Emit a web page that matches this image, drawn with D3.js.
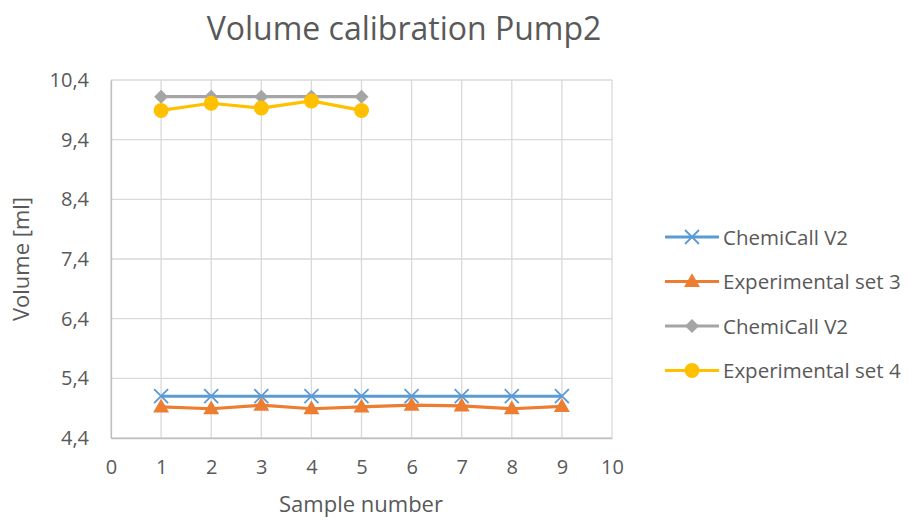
<!DOCTYPE html>
<html>
<head>
  <meta charset="utf-8">
  <title>Volume calibration Pump2</title>
  <style>
    body { margin: 0; background: #fff; }
    text { font-family: "Open Sans", "Liberation Sans", sans-serif; fill: #595959; }
  </style>
  <script src="https://d3js.org/d3.v7.min.js"></script>
</head>
<body>
  <div id="container"></div>
  <script>
    // data
    const sampleSet1 = [1, 2, 3, 4, 5, 6, 7, 8, 9];
    const chemicallA = [5.1, 5.1, 5.1, 5.1, 5.1, 5.1, 5.1, 5.1, 5.1];
    const experimental3 = [4.92, 4.89, 4.95, 4.89, 4.92, 4.95, 4.94, 4.89, 4.93];
    const sampleSet2 = [1, 2, 3, 4, 5];
    const chemicallB = [10.12, 10.12, 10.12, 10.12, 10.12];
    const experimental4 = [9.89, 10.01, 9.93, 10.05, 9.89];
    const xTicks = [0, 1, 2, 3, 4, 5, 6, 7, 8, 9, 10];
    const yTicks = [4.4, 5.4, 6.4, 7.4, 8.4, 9.4, 10.4];

    const width = 908, height = 520;
    const margin = { top: 80, left: 111, right: 296, bottom: 82 };

    const svg = d3.select("#container")
      .append("svg")
      .attr("width", width)
      .attr("height", height);

    const x = d3.scaleLinear().domain([0, 10]).range([margin.left, width - margin.right]);
    const y = d3.scaleLinear().domain([4.4, 10.4]).range([height - margin.bottom, margin.top]);

    // gridlines
    svg.append("g").selectAll("line.h")
      .data(yTicks)
      .enter().append("line")
      .attr("x1", x(0)).attr("x2", x(10))
      .attr("y1", d => y(d)).attr("y2", d => y(d))
      .attr("stroke", "#d9d9d9").attr("stroke-width", 1.3);
    svg.append("g").selectAll("line.v")
      .data(xTicks)
      .enter().append("line")
      .attr("x1", d => x(d)).attr("x2", d => x(d))
      .attr("y1", y(4.4)).attr("y2", y(10.4))
      .attr("stroke", "#d9d9d9").attr("stroke-width", 1.3);

    // axes
    const fmt = d => d.toFixed(1).replace(".", ",");
    const yAxis = svg.append("g")
      .attr("transform", "translate(" + x(0) + ",0)")
      .call(d3.axisLeft(y).tickValues(yTicks).tickFormat(fmt).tickSize(0).tickPadding(22));
    yAxis.select(".domain").attr("stroke", "#bfbfbf").attr("stroke-width", 1.3);
    yAxis.selectAll("text").attr("font-size", 20).attr("fill", "#595959")
      .style("font-family", "'Open Sans', sans-serif");

    const xAxis = svg.append("g")
      .attr("transform", "translate(0," + y(4.4) + ")")
      .call(d3.axisBottom(x).tickValues(xTicks).tickFormat(d3.format("d")).tickSize(0).tickPadding(22));
    xAxis.select(".domain").attr("stroke", "#bfbfbf").attr("stroke-width", 1.3);
    xAxis.selectAll("text").attr("font-size", 20).attr("fill", "#595959")
      .style("font-family", "'Open Sans', sans-serif");

    // titles
    svg.append("text")
      .attr("x", 404).attr("y", 40)
      .attr("text-anchor", "middle")
      .attr("font-size", 32)
      .text("Volume calibration Pump2");

    svg.append("text")
      .attr("x", 361).attr("y", 512)
      .attr("text-anchor", "middle")
      .attr("font-size", 22)
      .text("Sample number");

    svg.append("text")
      .attr("transform", "translate(29,259) rotate(-90)")
      .attr("text-anchor", "middle")
      .attr("font-size", 22)
      .text("Volume [ml]");

    // series
    const series = [
      { name: "ChemiCall V2", xs: sampleSet1, ys: chemicallA, color: "#5B9BD5", marker: "x" },
      { name: "Experimental set 3", xs: sampleSet1, ys: experimental3, color: "#ED7D31", marker: "triangle" },
      { name: "ChemiCall V2", xs: sampleSet2, ys: chemicallB, color: "#A5A5A5", marker: "diamond" },
      { name: "Experimental set 4", xs: sampleSet2, ys: experimental4, color: "#FFC000", marker: "circle" }
    ];

    function drawMarker(g, type, color) {
      if (type === "x") {
        g.append("path").attr("d", "M-7,-7L7,7M-7,7L7,-7")
          .attr("stroke", color).attr("stroke-width", 1.8).attr("fill", "none");
      } else if (type === "triangle") {
        g.append("path").attr("d", d3.symbol(d3.symbolTriangle, 110)())
          .attr("fill", color).attr("transform", "translate(0,1)");
      } else if (type === "diamond") {
        g.append("path").attr("d", "M0,-7L7,0L0,7L-7,0Z").attr("fill", color);
      } else {
        g.append("circle").attr("r", 7.5).attr("fill", color);
      }
    }

    const line = d3.line().x(d => x(d[0])).y(d => y(d[1]));

    series.forEach(function(s) {
      const pts = s.xs.map((v, i) => [v, s.ys[i]]);
      svg.append("path")
        .datum(pts)
        .attr("d", line)
        .attr("fill", "none")
        .attr("stroke", s.color)
        .attr("stroke-width", 3.2)
        .attr("stroke-linejoin", "round");
      svg.append("g").selectAll("g")
        .data(pts)
        .enter().append("g")
        .attr("transform", d => "translate(" + x(d[0]) + "," + y(d[1]) + ")")
        .each(function() { drawMarker(d3.select(this), s.marker, s.color); });
    });

    // legend
    const legend = svg.append("g");
    series.forEach(function(s, i) {
      const ly = 237 + i * 44.5;
      const g = legend.append("g").attr("transform", "translate(0," + ly + ")");
      g.append("line").attr("x1", 665).attr("x2", 719).attr("y1", 0).attr("y2", 0)
        .attr("stroke", s.color).attr("stroke-width", 3.2);
      drawMarker(g.append("g").attr("transform", "translate(692,0)"), s.marker, s.color);
      g.append("text").attr("x", 723).attr("y", 7.5)
        .attr("font-size", 20.5)
        .text(s.name);
    });
  </script>
</body>
</html>
